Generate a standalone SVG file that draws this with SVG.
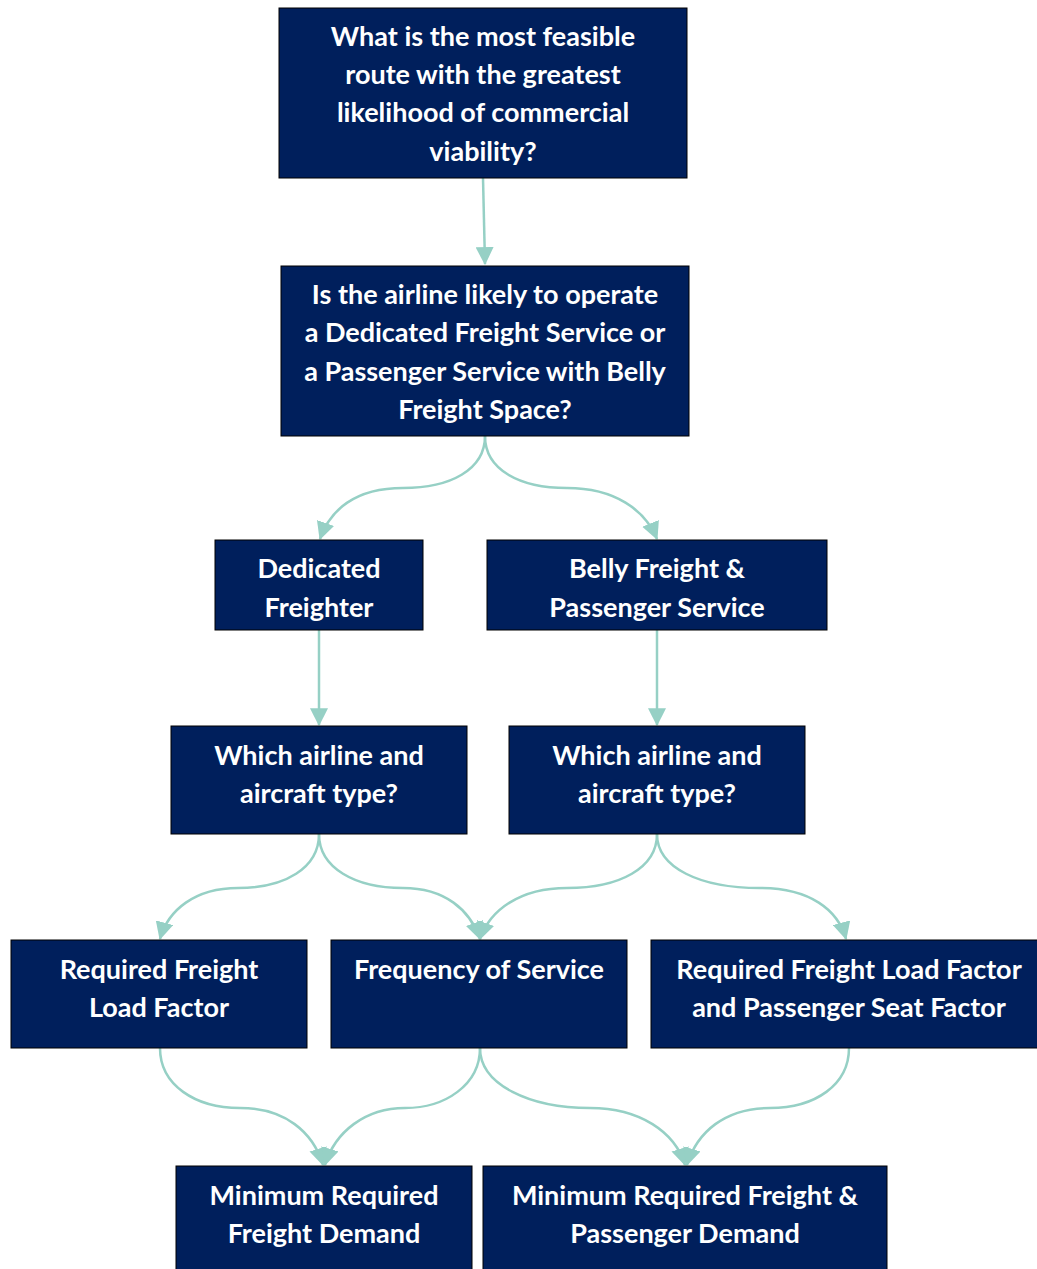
<svg xmlns="http://www.w3.org/2000/svg" width="1037" height="1269" viewBox="0 0 1037 1269">
<style>
.box{fill:#001f5c;stroke:#000;stroke-width:1}
.t{fill:#fff;font-family:Lato,"Open Sans","Liberation Sans",sans-serif;font-weight:bold;font-size:27px;text-anchor:middle}
.c{fill:none;stroke:#96d0c5;stroke-width:2.5}
</style>
<defs>
<marker id="ah" markerUnits="userSpaceOnUse" markerWidth="18" markerHeight="18" viewBox="0 0 16 16" refX="15" refY="8" orient="auto">
<path d="M0,0 L16,8 L0,16 Z" fill="#96d0c5"/>
</marker>
</defs>
<rect width="1037" height="1269" fill="#fff"/>
<g id="connectors">
<path class="c" d="M483,178 L485,264" marker-end="url(#ah)"/>
<path class="c" d="M485,436 C485,470 450,488 403,488 C355,488 330,510 320,539" marker-end="url(#ah)"/>
<path class="c" d="M485,436 C485,470 520,488 567,488 C615,488 645,510 657,539" marker-end="url(#ah)"/>
<path class="c" d="M319,630 L319,725" marker-end="url(#ah)"/>
<path class="c" d="M657,630 L657,725" marker-end="url(#ah)"/>
<path class="c" d="M319,834 C319,868 285,888 238,888 C195,888 168,910 160,939" marker-end="url(#ah)"/>
<path class="c" d="M319,834 C319,868 355,888 403,888 C445,888 470,910 480,939" marker-end="url(#ah)"/>
<path class="c" d="M657,834 C657,868 620,888 567,888 C520,888 490,910 480,939" marker-end="url(#ah)"/>
<path class="c" d="M657,834 C657,868 700,888 760,888 C810,888 838,910 846,939" marker-end="url(#ah)"/>
<path class="c" d="M160,1048 C160,1085 195,1108 240,1108 C285,1108 313,1132 323,1165" marker-end="url(#ah)"/>
<path class="c" d="M480,1048 C480,1085 445,1108 405,1108 C365,1108 335,1132 325,1165" marker-end="url(#ah)"/>
<path class="c" d="M480,1048 C480,1085 530,1108 590,1108 C640,1108 675,1132 685,1165" marker-end="url(#ah)"/>
<path class="c" d="M849,1048 C849,1085 815,1108 770,1108 C725,1108 697,1132 687,1165" marker-end="url(#ah)"/>
</g>
<g id="n1">
<rect class="box" x="279" y="8" width="408" height="170"/>
<text class="t" x="483" y="46">What is the most feasible</text>
<text class="t" x="483" y="84">route with the greatest</text>
<text class="t" x="483" y="122">likelihood of commercial</text>
<text class="t" x="483" y="161">viability?</text>
</g>
<g id="n2">
<rect class="box" x="281" y="266" width="408" height="170"/>
<text class="t" x="485" y="304">Is the airline likely to operate</text>
<text class="t" x="485" y="342">a Dedicated Freight Service or</text>
<text class="t" x="485" y="381">a Passenger Service with Belly</text>
<text class="t" x="485" y="419">Freight Space?</text>
</g>
<g id="n3">
<rect class="box" x="215" y="540" width="208" height="90"/>
<text class="t" x="319" y="578">Dedicated</text>
<text class="t" x="319" y="617">Freighter</text>
</g>
<g id="n4">
<rect class="box" x="487" y="540" width="340" height="90"/>
<text class="t" x="657" y="578">Belly Freight &amp;</text>
<text class="t" x="657" y="617">Passenger Service</text>
</g>
<g id="n5">
<rect class="box" x="171" y="726" width="296" height="108"/>
<text class="t" x="319" y="765">Which airline and</text>
<text class="t" x="319" y="803">aircraft type?</text>
</g>
<g id="n6">
<rect class="box" x="509" y="726" width="296" height="108"/>
<text class="t" x="657" y="765">Which airline and</text>
<text class="t" x="657" y="803">aircraft type?</text>
</g>
<g id="n7">
<rect class="box" x="11" y="940" width="296" height="108"/>
<text class="t" x="159" y="979">Required Freight</text>
<text class="t" x="159" y="1017">Load Factor</text>
</g>
<g id="n8">
<rect class="box" x="331" y="940" width="296" height="108"/>
<text class="t" x="479" y="979">Frequency of Service</text>
</g>
<g id="n9">
<rect class="box" x="651" y="940" width="400" height="108"/>
<text class="t" x="849" y="979">Required Freight Load Factor</text>
<text class="t" x="849" y="1017">and Passenger Seat Factor</text>
</g>
<g id="n10">
<rect class="box" x="176" y="1166" width="296" height="110"/>
<text class="t" x="324" y="1205">Minimum Required</text>
<text class="t" x="324" y="1243">Freight Demand</text>
</g>
<g id="n11">
<rect class="box" x="483" y="1166" width="404" height="110"/>
<text class="t" x="685" y="1205">Minimum Required Freight &amp;</text>
<text class="t" x="685" y="1243">Passenger Demand</text>
</g>
</svg>
